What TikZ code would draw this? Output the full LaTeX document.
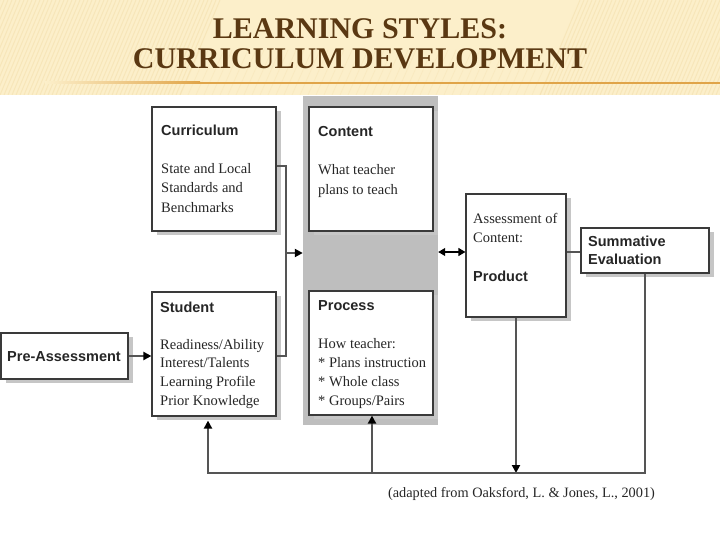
\documentclass[tikz,border=0pt]{standalone}
\usepackage{fontspec}
\setmainfont{Liberation Serif}
\newfontfamily\headsans{Liberation Sans}
\usetikzlibrary{arrows.meta,shadows}
\definecolor{cream}{HTML}{FCEFCA}
\definecolor{stripe}{HTML}{F4E0AE}
\definecolor{rule}{HTML}{E0A448}
\definecolor{titlebrown}{HTML}{5A3812}
\definecolor{panelgray}{HTML}{BEBEBE}
\definecolor{shadowgray}{HTML}{C6C6C6}
\definecolor{boxline}{HTML}{3A3A3A}
\definecolor{wire}{HTML}{555555}
\definecolor{ink}{HTML}{262626}
\begin{document}
\begin{tikzpicture}[x=1pt,y=-1pt,
  box/.style={draw=boxline,line width=1.2pt,fill=white,inner sep=0pt,
    drop shadow={shadow xshift=5pt,shadow yshift=-4pt,fill=shadowgray,opacity=1}},
  head/.style={anchor=base west,inner sep=0pt,text=ink,font=\headsans\bfseries\fontsize{14.5}{17}\selectfont},
  body/.style={anchor=base west,inner sep=0pt,text=ink,font=\fontsize{14.5}{17}\selectfont},
  wireline/.style={draw=wire,line width=2pt},
  tip/.style={wireline,-{Triangle[length=8pt,width=8pt,color=black]}},
  dtip/.style={draw=black,line width=1.2pt,{Triangle[length=7pt,width=8pt]}-{Triangle[length=7pt,width=8pt]}}]
\useasboundingbox (0,0) rectangle (720,540);
\fill[white] (0,0) rectangle (720,540);
% banner
\fill[cream] (0,0) rectangle (720,95);
\begin{scope}
\clip (0,0) rectangle (720,95);
\foreach \s in {-60,-56,...,180} \draw[stripe,line width=1pt,opacity=0.6] (\s,95) -- (\s+40,0);
\foreach \s in {540,544,...,760} \draw[stripe,line width=1pt,opacity=0.6] (\s,95) -- (\s+40,0);
\foreach \s in {180,188,...,540} \draw[stripe,line width=0.8pt,opacity=0.35] (\s,95) -- (\s+20,50);
\end{scope}
\shade[left color=cream,right color=rule] (45,82) rectangle (200,84);
\fill[rule] (200,82) rectangle (720,84);
\node[anchor=base,inner sep=0pt,text=titlebrown,font=\bfseries\fontsize{30}{32}\selectfont] (t1) at (360,38.5) {LEARNING STYLES:};
\node[anchor=base,inner sep=0pt,text=titlebrown,font=\bfseries\fontsize{30}{32}\selectfont] (t2) at (360,68.5) {CURRICULUM DEVELOPMENT};
% gray panel
\node[fill=panelgray,inner sep=0pt,minimum width=135pt,minimum height=329pt] (bg) at (370.5,260.5) {};
% boxes
\node[box,minimum width=124pt,minimum height=124pt] (cur) at (214,169) {};
\node[box,minimum width=124pt,minimum height=124pt] (con) at (371,169) {};
\node[box,minimum width=124pt,minimum height=124pt] (stu) at (214,354) {};
\node[box,minimum width=124pt,minimum height=124pt] (pro) at (371,353) {};
\node[box,minimum width=127pt,minimum height=46pt] (pre) at (64.5,356) {};
\node[box,minimum width=100pt,minimum height=123pt] (ass) at (516,255.5) {};
\node[box,minimum width=128pt,minimum height=45pt] (sum) at (645,250.5) {};
% texts
\node[head] (curh) at (161,136) {Curriculum};
\foreach \t [count=\i] in {State and Local,Standards and,Benchmarks}
  \node[body] (curb\i) at (161,{174+19*(\i-1)}) {\t};
\node[head] (conh) at (318,137) {Content};
\foreach \t [count=\i] in {What teacher,plans to teach}
  \node[body] (conb\i) at (318,{175+20*(\i-1)}) {\t};
\node[head] (stuh) at (160,312) {Student};
\foreach \t [count=\i] in {Readiness/Ability,Interest/Talents,Learning Profile,Prior Knowledge}
  \node[body] (stub\i) at (160,{349+18.8*(\i-1)}) {\t};
\node[head] (proh) at (318,310) {Process};
\foreach \t [count=\i] in {How teacher:,* Plans instruction,* Whole class,* Groups/Pairs}
  \node[body] (prob\i) at (318,{348+19*(\i-1)}) {\t};
\node[head] (preh) at (7,361) {Pre-Assessment};
\node[body] (assb1) at (473,224) {Assessment of};
\node[body] (assb2) at (473,243) {Content:};
\node[head] (assh) at (473,281) {Product};
\node[head] (sumh1) at (588,246) {Summative};
\node[head] (sumh2) at (588,264.5) {Evaluation};
\node[anchor=base,inner sep=0pt,text=ink,font=\fontsize{14.3}{16}\selectfont] (cap) at (521.5,497.5) {(adapted from Oaksford, L. \& Jones, L., 2001)};
% connectors
\draw[tip] (pre.east) -- (pre.east -| stu.west);
\coordinate (bt) at (286,166);
\coordinate (bb) at (286,356);
\coordinate (bm) at (286,253);
\draw[wireline] (cur.east |- bt) -- (bt) -- (bb) -- (stu.east |- bb);
\draw[tip] (bm) -- (bm -| bg.west);
\coordinate (dm) at (452,252);
\draw[dtip] (dm -| bg.east) -- (dm -| ass.west);
\coordinate (sm) at (574,252);
\draw[wireline] (sm -| ass.east) -- (sm -| sum.west);
\coordinate (fl) at (208,473);
\coordinate (fp) at (372,473);
\draw[tip] (ass.south) -- (ass.south |- fl);
\draw[tip] (sum.south) -- (sum.south |- fl) -- (fl) -- ([yshift=-4pt]stu.south -| fl);
\draw[tip] (fp) -- (fp |- pro.south);
\end{tikzpicture}
\end{document}
